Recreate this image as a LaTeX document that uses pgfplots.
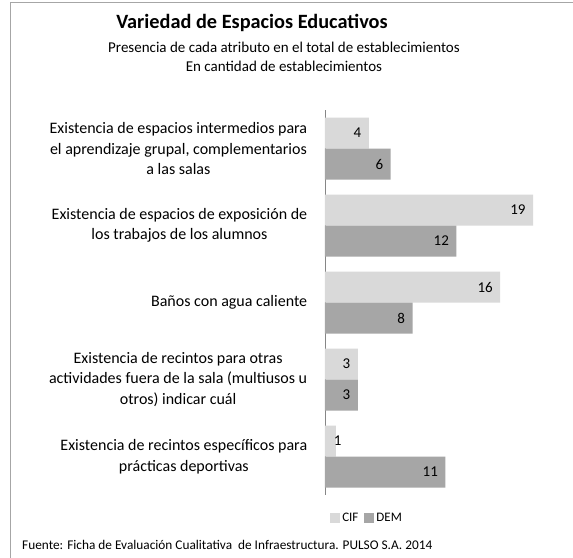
\documentclass[border=0pt]{standalone}
\usepackage{pgfplots}
\pgfplotsset{compat=1.18}
\usepackage{fontspec}
\setmainfont{Carlito}

\definecolor{cifgray}{HTML}{D9D9D9}
\definecolor{demgray}{HTML}{A6A6A6}
\definecolor{axgray}{HTML}{868686}
\definecolor{framegray}{HTML}{A6A6A6}

\begin{document}
\begin{tikzpicture}
% page = 573 x 557 pt, origin bottom-left
\useasboundingbox (0pt,0pt) rectangle (573pt,557pt);
\fill[white] (0pt,0pt) rectangle (573pt,557pt);
\draw[framegray, line width=1pt] (10pt,-10pt) -- (10pt,554pt) -- (590pt,554pt);

\node[font=\fontsize{20.3}{24}\selectfont\bfseries] at (252pt,534pt) {Variedad de Espacios Educativos};
\node[font=\fontsize{15}{18}\selectfont] at (284pt,510pt) {Presencia de cada atributo en el total de establecimientos};
\node[font=\fontsize{15}{18}\selectfont] at (284pt,491pt) {En cantidad de establecimientos};
\node[font=\fontsize{13.3}{15}\selectfont, anchor=west, inner sep=0pt] at (22pt,12pt) {Fuente: Ficha de Evaluación Cualitativa\ \ de Infraestructura. PULSO S.A. 2014};

\begin{axis}[
    at={(325pt,62pt)}, anchor=south west,
    scale only axis, width=230pt, height=385pt,
    xbar, xmin=0, xmax=21,
    ymin=-0.5, ymax=4.5, y dir=reverse,
    axis x line=none,
    axis y line*=left,
    y axis line style={-, draw=axgray, line width=0.6pt},
    xtick=\empty,
    ytick={0,1,2,3,4},
    yticklabels={
      {Existencia de espacios intermedios para\\el aprendizaje grupal, complementarios\\a las salas},
      {Existencia de espacios de exposición de\\los trabajos de los alumnos},
      {Baños con agua caliente},
      {Existencia de recintos para otras\\actividades fuera de la sala (multiusos u\\otros) indicar cuál},
      {Existencia de recintos específicos para\\prácticas deportivas}},
    yticklabel style={align=center, font=\fontsize{16}{20.5}\selectfont, xshift=-10pt},
    major y tick style={draw=none},
    extra y ticks={-0.5,0.5,1.5,2.5,3.5,4.5},
    extra y tick labels={},
    extra y tick style={tick align=outside, major tick length=4pt,
        tick style={draw=axgray, line width=0.6pt}},
    bar width=31pt,
    nodes near coords,
    visualization depends on={x \as \rx},
    nodes near coords style={anchor=east, font=\fontsize{15}{17}\selectfont,
        text=black, /pgf/number format/assume math mode=true,
        xshift={ifthenelse(\rx<2,9,-4)}},
    legend style={at={(0.183,-0.06)}, anchor=center, draw=none,
        legend columns=2, font=\fontsize{13}{15}\selectfont,
        /tikz/every even column/.append style={column sep=4pt}},
    legend image code/.code={\fill[#1] (0pt,-5pt) rectangle (10pt,5pt);},
    clip=false,
]
\addplot[fill=cifgray, draw=none, bar shift=15.5pt] coordinates {
    (4,0) (19,1) (16,2) (3,3) (1,4)};
\addplot[fill=demgray, draw=none, bar shift=-15.5pt] coordinates {
    (6,0) (12,1) (8,2) (3,3) (11,4)};
\legend{CIF,DEM}
\end{axis}
\end{tikzpicture}
\end{document}
